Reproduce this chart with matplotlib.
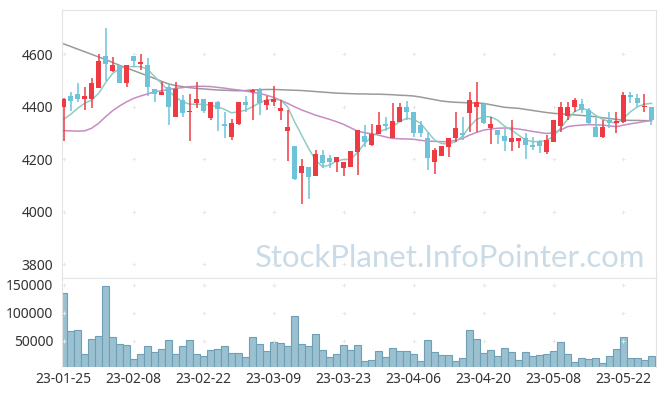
import matplotlib
matplotlib.use("Agg")
import matplotlib.pyplot as plt
import numpy as np

plt.rcParams["font.family"] = ["Noto Sans", "DejaVu Sans"]

# daily prices (trading days, 23-01-25 .. 23-05-26)
opens = [4398, 4441, 4449, 4431, 4431, 4473, 4594, 4538, 4558, 4492,
         4594, 4562, 4559, 4468, 4446, 4477, 4362, 4426, 4379, 4413,
         4430, 4359, 4418, 4333, 4286, 4334, 4418, 4456, 4464, 4408,
         4420, 4384, 4309, 4250, 4148, 4170, 4137, 4216, 4203, 4190,
         4165, 4172, 4228, 4288, 4254, 4296, 4334, 4282, 4343, 4399,
         4380, 4330, 4281, 4190, 4213, 4248, 4279, 4301, 4377, 4400,
         4410, 4320, 4311, 4288, 4267, 4271, 4281, 4254, 4269, 4229,
         4267, 4328, 4366, 4398, 4410, 4388, 4321, 4283, 4349, 4337,
         4343, 4445, 4432, 4398, 4398]
highs = [4432, 4457, 4489, 4474, 4508, 4600, 4700, 4589, 4560, 4560,
         4594, 4600, 4585, 4468, 4496, 4489, 4496, 4445, 4449, 4493,
         4431, 4419, 4423, 4379, 4352, 4420, 4441, 4468, 4470, 4442,
         4479, 4425, 4388, 4252, 4202, 4172, 4237, 4235, 4216, 4210,
         4190, 4233, 4312, 4329, 4333, 4379, 4362, 4416, 4416, 4423,
         4381, 4346, 4299, 4241, 4250, 4280, 4379, 4362, 4457, 4496,
         4413, 4362, 4312, 4314, 4349, 4281, 4299, 4286, 4275, 4292,
         4350, 4417, 4417, 4432, 4428, 4394, 4356, 4349, 4379, 4381,
         4455, 4455, 4449, 4449, 4399]
lows = [4269, 4385, 4418, 4388, 4394, 4470, 4498, 4531, 4490, 4474,
        4553, 4540, 4441, 4418, 4445, 4329, 4360, 4362, 4269, 4394,
        4375, 4349, 4309, 4279, 4273, 4330, 4381, 4349, 4368, 4387,
        4403, 4349, 4194, 4122, 4029, 4050, 4135, 4167, 4165, 4152,
        4136, 4170, 4139, 4248, 4251, 4295, 4307, 4280, 4342, 4349,
        4286, 4283, 4159, 4142, 4212, 4207, 4267, 4273, 4305, 4305,
        4336, 4258, 4258, 4231, 4232, 4241, 4199, 4235, 4222, 4218,
        4266, 4305, 4349, 4380, 4375, 4336, 4283, 4282, 4318, 4301,
        4337, 4413, 4400, 4381, 4330]
closes = [4430, 4423, 4431, 4441, 4492, 4575, 4562, 4558, 4492, 4558,
          4576, 4572, 4477, 4449, 4458, 4400, 4468, 4377, 4385, 4430,
          4385, 4418, 4393, 4328, 4337, 4418, 4408, 4464, 4416, 4426,
          4428, 4395, 4321, 4123, 4175, 4133, 4218, 4184, 4188, 4207,
          4188, 4232, 4311, 4267, 4298, 4329, 4328, 4346, 4399, 4381,
          4301, 4301, 4206, 4235, 4250, 4279, 4318, 4292, 4426, 4418,
          4337, 4333, 4292, 4271, 4281, 4281, 4254, 4248, 4251, 4273,
          4349, 4399, 4399, 4426, 4388, 4337, 4283, 4321, 4337, 4346,
          4444, 4439, 4416, 4404, 4349]

ma_short = [4352, 4371, 4394, 4413, 4426, 4451, 4492, 4527, 4546, 4553,
            4553, 4553, 4543, 4515, 4489, 4461, 4436, 4419, 4410, 4409,
            4410, 4405, 4400, 4390, 4377, 4381, 4387, 4400, 4415, 4426,
            4428, 4426, 4400, 4343, 4292, 4241, 4197, 4171, 4178, 4193,
            4199, 4199, 4226, 4260, 4286, 4305, 4314, 4324, 4343, 4356,
            4352, 4337, 4305, 4273, 4260, 4258, 4267, 4288, 4324, 4352,
            4362, 4362, 4349, 4326, 4311, 4292, 4273, 4267, 4267, 4271,
            4288, 4318, 4352, 4381, 4394, 4387, 4368, 4352, 4343, 4337,
            4356, 4381, 4400, 4410, 4413]
ma_mid = [4309, 4308, 4307, 4308, 4318, 4337, 4362, 4385, 4403, 4419,
          4432, 4441, 4449, 4457, 4461, 4466, 4470, 4473, 4477, 4478,
          4478, 4477, 4474, 4471, 4467, 4464, 4460, 4455, 4451, 4444,
          4436, 4425, 4413, 4400, 4388, 4378, 4368, 4360, 4352, 4343,
          4333, 4320, 4307, 4301, 4297, 4292, 4285, 4279, 4278, 4277,
          4276, 4272, 4269, 4268, 4267, 4267, 4272, 4279, 4292, 4302,
          4311, 4315, 4318, 4319, 4318, 4315, 4311, 4306, 4302, 4298,
          4301, 4311, 4324, 4328, 4330, 4332, 4331, 4330, 4327, 4324,
          4330, 4335, 4339, 4344, 4349]
ma_long = [4640, 4630, 4620, 4610, 4600, 4590, 4580, 4569, 4558, 4548,
           4538, 4528, 4518, 4508, 4497, 4487, 4481, 4477, 4473, 4470,
           4468, 4466, 4464, 4463, 4462, 4461, 4462, 4464, 4465, 4466,
           4466, 4465, 4464, 4463, 4462, 4460, 4458, 4456, 4454, 4452,
           4451, 4450, 4449, 4449, 4448, 4448, 4447, 4446, 4444, 4443,
           4441, 4437, 4432, 4427, 4422, 4419, 4417, 4416, 4415, 4414,
           4413, 4408, 4403, 4398, 4396, 4394, 4390, 4386, 4382, 4378,
           4375, 4373, 4371, 4369, 4367, 4365, 4362, 4358, 4355, 4352,
           4349, 4348, 4348, 4347, 4347]

volumes = [135000, 67300, 69100, 26200, 53000, 58300, 147600, 56600, 44000, 42300,
           17300, 26200, 40500, 29800, 35100, 51200, 26200, 40500, 51200, 26200,
           22700, 33400, 35100, 40500, 28000, 28000, 20900, 56600, 44000, 31600,
           47700, 45900, 40500, 94100, 44000, 40500, 62000, 33400, 20900, 26200,
           42300, 33400, 42300, 13750, 15500, 31600, 20900, 37000, 31600, 31600,
           26200, 13750, 51200, 29800, 24500, 24500, 13750, 19100, 69100, 53000,
           28000, 33400, 22700, 37000, 29800, 15500, 29800, 22700, 24500, 26200,
           31600, 47700, 26200, 12000, 19100, 17300, 19100, 10200, 22700, 35100,
           56600, 19100, 19100, 15500, 22700]

date_labels = ["23-01-25", "23-02-08", "23-02-22", "23-03-09", "23-03-23",
               "23-04-06", "23-04-20", "23-05-08", "23-05-22"]
price_ticks = [3800, 4000, 4200, 4400, 4600]
volume_ticks = [50000, 100000, 150000]

UP = "#ee3a42"
DOWN = "#6ec3d9"
GRID = "#e8e8e8"
SPINE = "#e3e3e3"
TEXT = "#333333"

o = np.array(opens)
c = np.array(closes)
x = np.arange(len(o))
up = c >= o
colors = np.where(up, UP, DOWN)

fig = plt.figure(figsize=(6.65, 3.96), dpi=100)
ax = fig.add_axes([0.0925, 0.2987, 0.8935, 0.676])
axv = fig.add_axes([0.0925, 0.074, 0.8935, 0.2247], sharex=ax)

# moving averages
ax.plot(x, ma_long, color="#9a9a9a", lw=1.1, zorder=2)
ax.plot(x, ma_mid, color="#c98bc3", lw=1.1, zorder=2)
ax.plot(x, ma_short, color="#8fcdc3", lw=1.1, zorder=2)

# candles
ax.vlines(x, lows, highs, colors=colors, lw=1.1, zorder=3)
body = np.maximum(np.abs(c - o), 3)
ax.bar(x, body, bottom=np.minimum(o, c), width=0.66, color=colors, zorder=4)

# volume
axv.bar(x, volumes, width=1.0, color="#9bc1d1", edgecolor="#6d9fb6", lw=0.8)

tick_pos = np.arange(0, len(x), 10)
for a, yt in ((ax, price_ticks), (axv, volume_ticks)):
    gx, gy = np.meshgrid(tick_pos, yt)
    a.scatter(gx.ravel(), gy.ravel(), marker="+", s=12, color=GRID, lw=0.7, zorder=1)
    a.set_yticks(yt)
    a.tick_params(length=0, labelsize=10, labelcolor=TEXT, pad=6)
    for s in a.spines.values():
        s.set_color(SPINE)
axv.spines["bottom"].set_visible(False)

ax.set_xlim(-0.3, 84.6)
ax.set_ylim(3748, 4769)
axv.set_ylim(4000, 163000)
axv.set_xticks(tick_pos)
axv.set_xticklabels(date_labels)
axv.tick_params(axis="x", pad=4)
ax.tick_params(axis="x", labelbottom=False)

ax.text(0.654, 0.04, "StockPlanet.InfoPointer.com", transform=ax.transAxes,
        ha="center", va="baseline", fontsize=22.4, color="#c9dbe6",
        family=["Lato", "DejaVu Sans"], zorder=0)

fig.savefig("out.png", dpi=100)
